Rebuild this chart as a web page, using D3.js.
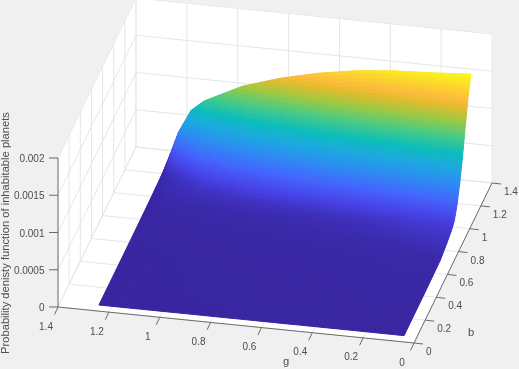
<!DOCTYPE html>
<html>
<head>
<meta charset="utf-8">
<style>
html, body { margin: 0; padding: 0; background: #f0f0f0; }
svg { display: block; filter: blur(0.35px); }
text { font-family: "Liberation Sans", Arial, sans-serif; fill: #4d4d4d; }
</style>
<script src="https://cdnjs.cloudflare.com/ajax/libs/d3/7.8.5/d3.min.js"></script>
</head>
<body>
<svg width="519" height="369"></svg>
<script>
// values
var gTicks = [0, 0.2, 0.4, 0.6, 0.8, 1, 1.2, 1.4];
var bTicks = [0, 0.2, 0.4, 0.6, 0.8, 1, 1.2, 1.4];
var zTicks = [0, 0.0005, 0.001, 0.0015, 0.002];

var gValues = [0.05, 0.2, 0.35, 0.5, 0.65, 0.8, 0.95, 1.1, 1.15, 1.2, 1.25];
var bValues = [0.05, 0.45, 0.7, 0.8, 0.9, 0.95, 1, 1.05, 1.1, 1.15, 1.2, 1.25];

// density in units of 1e-3, one row per b, one column per g
var density = [
    [0.005, 0.005, 0.005, 0.004, 0.004, 0.003, 0.003, 0.002, 0.002, 0.002, 0.002],
    [0.01, 0.01, 0.008, 0.007, 0.006, 0.005, 0.004, 0.003, 0.003, 0.003, 0.002],
    [0.02, 0.018, 0.015, 0.012, 0.01, 0.008, 0.006, 0.005, 0.004, 0.004, 0.003],
    [0.06, 0.04, 0.03, 0.025, 0.02, 0.015, 0.012, 0.01, 0.009, 0.008, 0.005],
    [0.11, 0.09, 0.06, 0.05, 0.04, 0.03, 0.025, 0.02, 0.017, 0.015, 0.006],
    [0.16, 0.13, 0.10, 0.08, 0.06, 0.05, 0.04, 0.03, 0.025, 0.02, 0.008],
    [0.30, 0.25, 0.20, 0.16, 0.13, 0.10, 0.07, 0.05, 0.04, 0.03, 0.01],
    [0.52, 0.47, 0.40, 0.34, 0.28, 0.21, 0.13, 0.07, 0.055, 0.04, 0.012],
    [0.80, 0.74, 0.66, 0.58, 0.50, 0.40, 0.28, 0.12, 0.08, 0.05, 0.015],
    [1.14, 1.06, 0.98, 0.90, 0.80, 0.66, 0.50, 0.28, 0.16, 0.08, 0.02],
    [1.45, 1.38, 1.30, 1.22, 1.12, 0.98, 0.80, 0.55, 0.36, 0.20, 0.025],
    [1.675, 1.64, 1.615, 1.565, 1.48, 1.36, 1.20, 0.95, 0.81, 0.50, 0.03]
];

var parulaStops = [0, 0.095, 0.19, 0.3, 0.4, 0.49, 0.6, 0.7, 0.79, 0.84, 0.89, 1];
var parula = ["#3825a0", "#4741e5", "#4563fd", "#2d8cf3", "#1ca9df", "#0bbdbc",
    "#4acb84", "#9dc942", "#e6bb2d", "#febd3c", "#fccf30", "#f9fb15"];

var svg = d3.select("svg");

// the view is a plain oblique one, each data axis moves x and y on its own
var gToX = d3.scaleLinear().domain([0, 1.4]).range([0, -356]);
var gToY = d3.scaleLinear().domain([0, 1.4]).range([0, -36]);
var bToX = d3.scaleLinear().domain([0, 1.4]).range([0, 78]);
var bToY = d3.scaleLinear().domain([0, 1.4]).range([0, -160]);
var zToY = d3.scaleLinear().domain([0, 0.002]).range([0, -149]);
var originX = 414, originY = 343;

function project(g, b, z) {
    return [originX + gToX(g) + bToX(b), originY + gToY(g) + bToY(b) + zToY(z)];
}

var color = d3.scaleLinear()
    .domain(parulaStops.map(function(d) { return d * 1.675; }))
    .range(parula);

var line = d3.line();

// walls and floor
var gMax = 1.4, bMax = 1.4, zMax = 0.002;
var walls = [
    [[gMax, 0, 0], [gMax, bMax, 0], [gMax, bMax, zMax], [gMax, 0, zMax]],
    [[gMax, bMax, 0], [0, bMax, 0], [0, bMax, zMax], [gMax, bMax, zMax]],
    [[0, 0, 0], [gMax, 0, 0], [gMax, bMax, 0], [0, bMax, 0]]
];
svg.append("g").selectAll("path")
    .data(walls)
    .enter().append("path")
    .attr("d", function(d) {
        return line(d.map(function(p) { return project(p[0], p[1], p[2]); })) + "Z";
    })
    .attr("fill", "#ffffff")
    .attr("stroke", "#ffffff");

// grid lines
var gridLines = [];
gTicks.forEach(function(g) {
    gridLines.push([[g, 0, 0], [g, bMax, 0]]);
    gridLines.push([[g, bMax, 0], [g, bMax, zMax]]);
});
bTicks.forEach(function(b) {
    gridLines.push([[0, b, 0], [gMax, b, 0]]);
    gridLines.push([[gMax, b, 0], [gMax, b, zMax]]);
});
zTicks.forEach(function(z) {
    gridLines.push([[gMax, 0, z], [gMax, bMax, z]]);
    gridLines.push([[gMax, bMax, z], [0, bMax, z]]);
});
svg.append("g").selectAll("path")
    .data(gridLines)
    .enter().append("path")
    .attr("d", function(d) {
        return line(d.map(function(p) { return project(p[0], p[1], p[2]); }));
    })
    .attr("fill", "none")
    .attr("stroke", "#e6e6e6")
    .attr("stroke-width", 1);

// surface, each cell is cut in small pieces so the colour runs smooth
var pieces = 8;
var cells = [];
function valueAt(i, j, u, v) {
    return (density[i][j] * (1 - u) * (1 - v) + density[i + 1][j] * u * (1 - v) +
        density[i][j + 1] * (1 - u) * v + density[i + 1][j + 1] * u * v);
}
for (var i = bValues.length - 2; i >= 0; i--) {
    for (var su = pieces - 1; su >= 0; su--) {
        for (var j = 0; j < gValues.length - 1; j++) {
            for (var sv = 0; sv < pieces; sv++) {
                cells.push({ i: i, j: j, u0: su / pieces, u1: (su + 1) / pieces, v0: sv / pieces, v1: (sv + 1) / pieces });
            }
        }
    }
}
function corner(d, u, v) {
    var b = bValues[d.i] + (bValues[d.i + 1] - bValues[d.i]) * u;
    var g = gValues[d.j] + (gValues[d.j + 1] - gValues[d.j]) * v;
    return project(g, b, valueAt(d.i, d.j, u, v) / 1000);
}
svg.append("g").selectAll("path")
    .data(cells)
    .enter().append("path")
    .attr("d", function(d) {
        return line([corner(d, d.u0, d.v0), corner(d, d.u1, d.v0), corner(d, d.u1, d.v1), corner(d, d.u0, d.v1)]) + "Z";
    })
    .attr("fill", function(d) { return color(valueAt(d.i, d.j, (d.u0 + d.u1) / 2, (d.v0 + d.v1) / 2)); })
    .attr("stroke", function(d) { return color(valueAt(d.i, d.j, (d.u0 + d.u1) / 2, (d.v0 + d.v1) / 2)); })
    .attr("stroke-width", 1);

// axes
var axisColor = "#6b6b6b";
var axes = svg.append("g").attr("stroke", axisColor).attr("fill", "none");
axes.append("path").attr("d", line([project(0, 0, 0), project(gMax, 0, 0)]));
axes.append("path").attr("d", line([project(0, 0, 0), project(0, bMax, 0)]));
axes.append("path").attr("d", line([project(gMax, 0, 0), project(gMax, 0, zMax)]));

axes.selectAll(".gtick").data(gTicks).enter().append("path")
    .attr("class", "gtick")
    .attr("d", function(d) {
        var p = project(d, 0, 0);
        return line([p, [p[0] - 3.5, p[1] + 7.5]]);
    });
axes.selectAll(".btick").data(bTicks).enter().append("path")
    .attr("class", "btick")
    .attr("d", function(d) {
        var p = project(0, d, 0);
        return line([p, [p[0] + 9, p[1] + 1]]);
    });
axes.selectAll(".ztick").data(zTicks).enter().append("path")
    .attr("class", "ztick")
    .attr("d", function(d) {
        var p = project(gMax, 0, d);
        return line([p, [p[0] - 9, p[1]]]);
    });

var fontSize = 10;
svg.selectAll(".glabel").data(gTicks).enter().append("text")
    .attr("class", "glabel")
    .attr("x", function(d) { return project(d, 0, 0)[0] - 12; })
    .attr("y", function(d) { return project(d, 0, 0)[1] + 22.5; })
    .attr("text-anchor", "middle")
    .attr("font-size", fontSize)
    .text(function(d) { return d; });
svg.selectAll(".blabel").data(bTicks).enter().append("text")
    .attr("class", "blabel")
    .attr("x", function(d) { return project(0, d, 0)[0] + 12; })
    .attr("y", function(d) { return project(0, d, 0)[1] + 12; })
    .attr("font-size", fontSize)
    .text(function(d) { return d; });
svg.selectAll(".zlabel").data(zTicks).enter().append("text")
    .attr("class", "zlabel")
    .attr("x", 44.5)
    .attr("y", function(d) { return project(gMax, 0, d)[1] + 4; })
    .attr("text-anchor", "end")
    .attr("font-size", fontSize)
    .text(function(d) { return d; });

svg.append("text")
    .attr("x", 286).attr("y", 365)
    .attr("text-anchor", "middle")
    .attr("font-size", 11.2)
    .text("g");
svg.append("text")
    .attr("x", 471).attr("y", 336)
    .attr("text-anchor", "middle")
    .attr("font-size", 11.2)
    .text("b");
svg.append("text")
    .attr("transform", "translate(9,233) rotate(-90)")
    .attr("text-anchor", "middle")
    .attr("font-size", 11.2)
    .text("Probability denisty function of inhabitable planets");
</script>
</body>
</html>
